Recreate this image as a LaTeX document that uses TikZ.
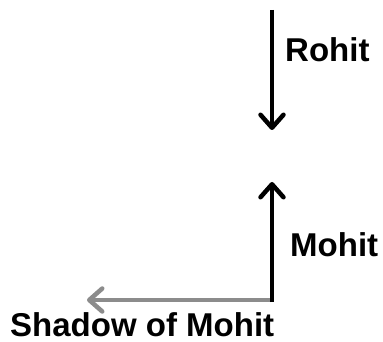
\documentclass[tikz,border=0pt]{standalone}
\usepackage{fontspec}
\setmainfont{Liberation Sans}
\usetikzlibrary{arrows.meta}
\tikzset{>={Straight Barb[length=13pt,width=23pt,line cap=round,line join=round]}}
\tikzset{pole/.style={line width=4.5pt,->},
  shade line/.style={line width=4.5pt,->,black!45!white},
  name tag/.style={font=\bfseries\fontsize{33}{36}\selectfont,inner sep=0pt}}

\begin{document}
\begin{tikzpicture}[x=1pt,y=-1pt]
\useasboundingbox (0,0) rectangle (383,342);
\coordinate (R1) at (272,10);
\coordinate (R2) at (272,130);
\coordinate (M1) at (272,302);
\coordinate (M2) at (272,182);
\coordinate (S) at (87,300);

\node[name tag,anchor=west] (rohit) at (285,50) {Rohit};
\node[name tag,anchor=west] (mohit) at (290,245) {Mohit};
\node[name tag,anchor=base west] (shadow) at (10,336) {Shadow of Mohit};

\draw[shade line] (M1|-S) -- (S);
\draw[pole] (R1) -- (R2);
\draw[pole] (M1) -- (M2);
\end{tikzpicture}
\end{document}
